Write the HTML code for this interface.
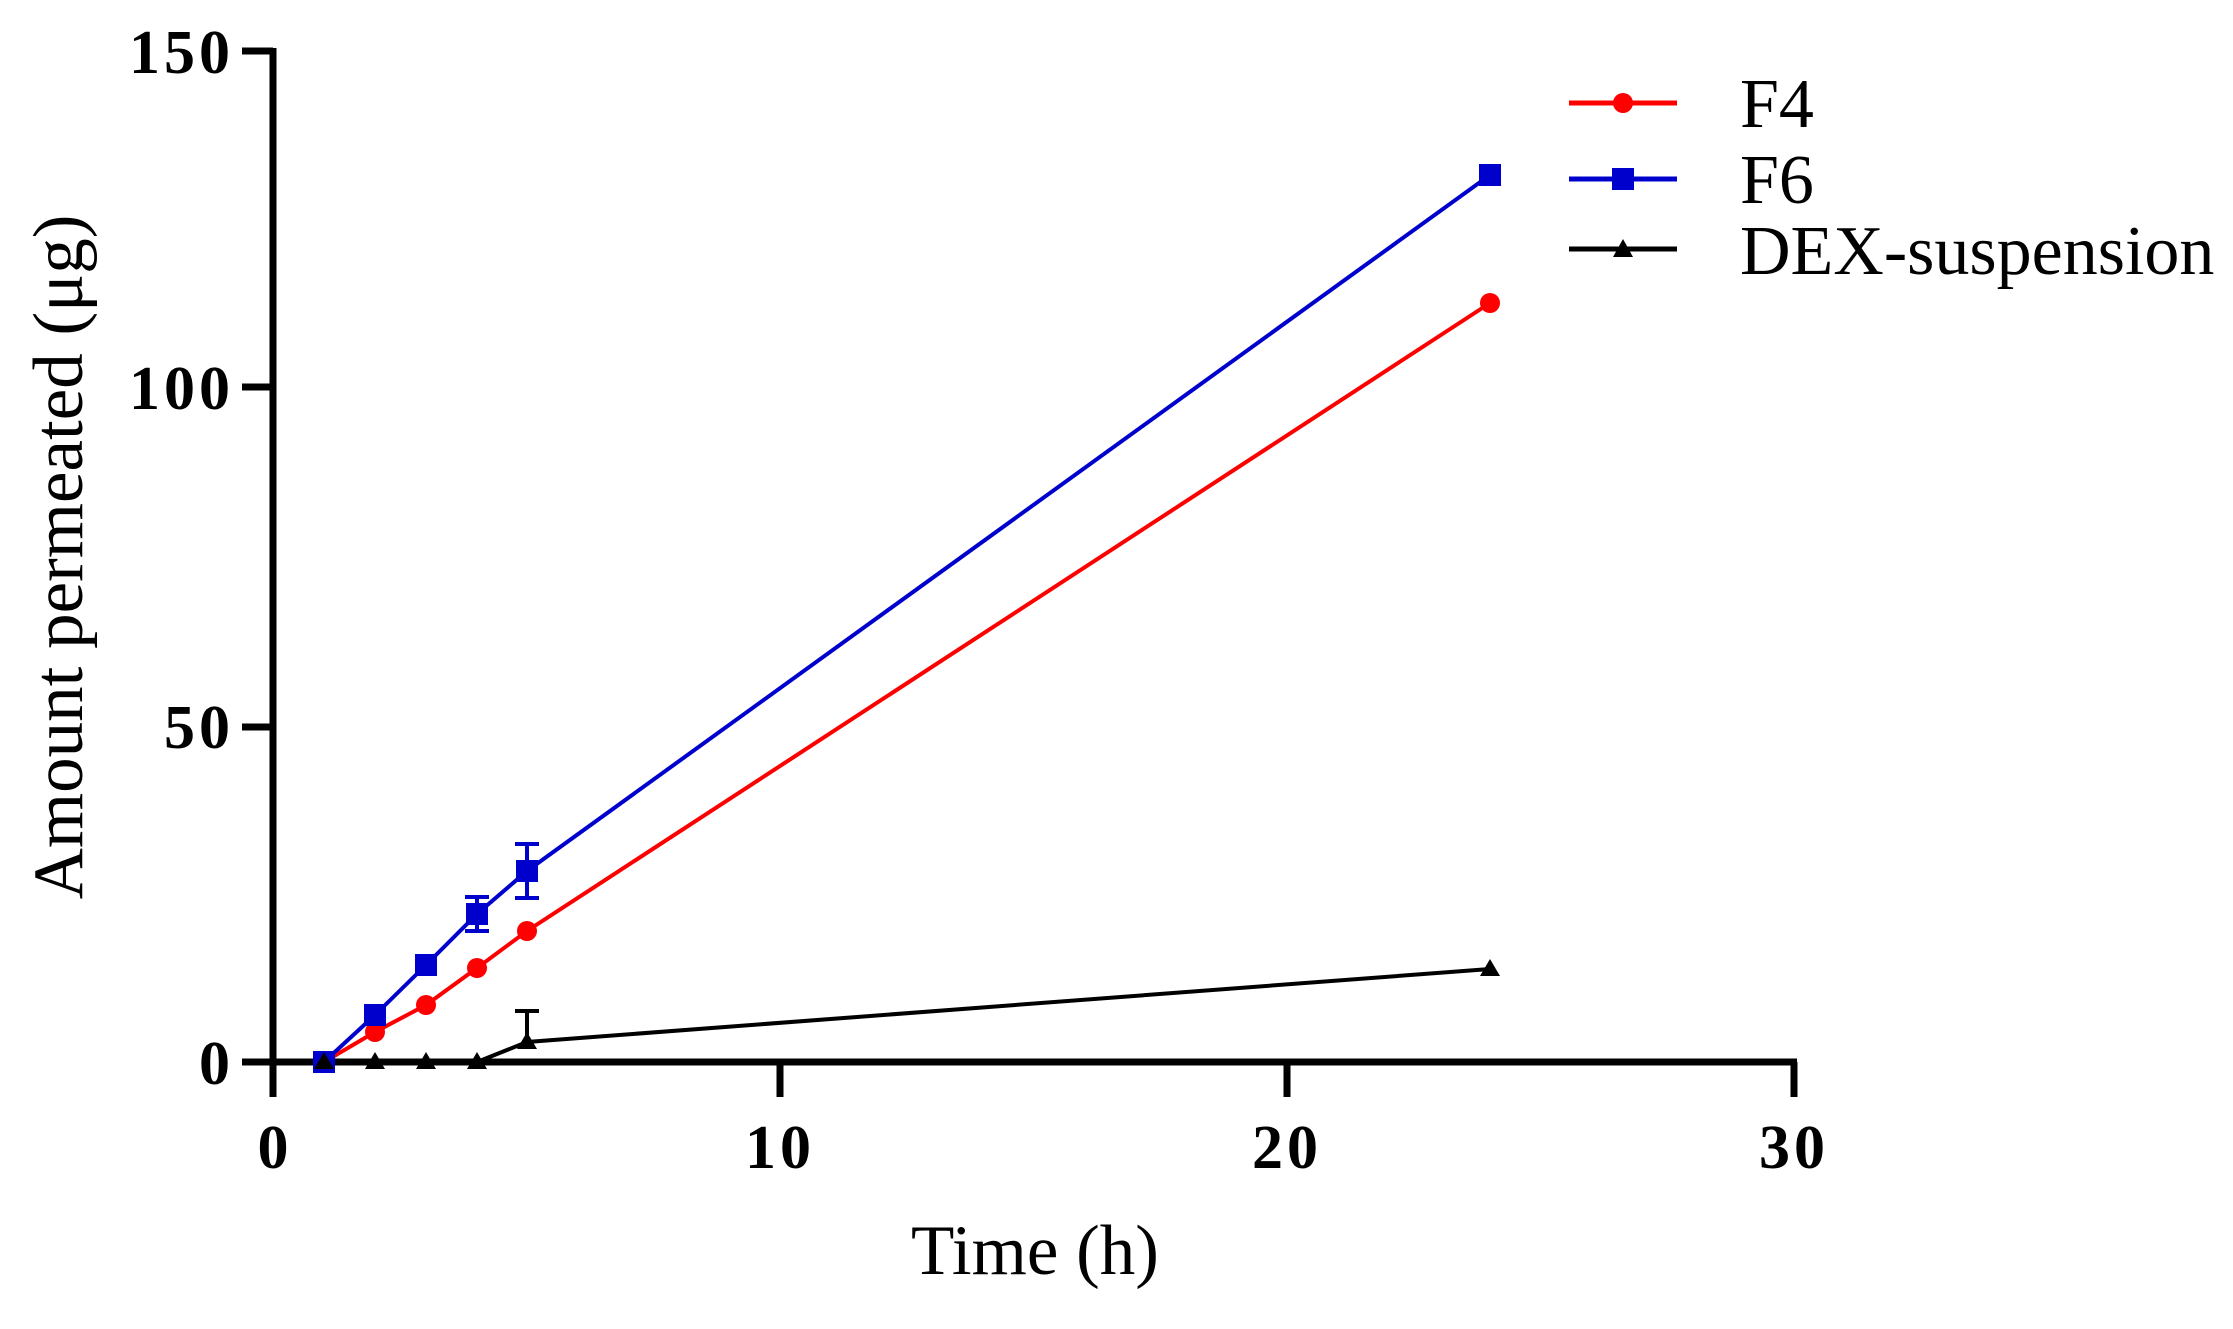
<!DOCTYPE html>
<html><head><meta charset="utf-8"><style>html,body{margin:0;padding:0;background:#fff}</style></head>
<body>
<svg width="2233" height="1324" xmlns="http://www.w3.org/2000/svg" font-family="Liberation Serif, serif">
<rect width="2233" height="1324" fill="#fff"/>
<g stroke="#000" stroke-width="7" fill="none">
<line x1="273" y1="48" x2="273" y2="1097"/>
<line x1="242" y1="1062" x2="1797" y2="1062"/>
<line x1="242" y1="51" x2="273" y2="51"/>
<line x1="242" y1="387" x2="273" y2="387"/>
<line x1="242" y1="727" x2="273" y2="727"/>
<line x1="780" y1="1062" x2="780" y2="1097"/>
<line x1="1287" y1="1062" x2="1287" y2="1097"/>
<line x1="1794" y1="1062" x2="1794" y2="1097"/>
</g>
<g font-weight="bold" font-size="62" text-anchor="end" letter-spacing="4">
<text x="234" y="73">150</text>
<text x="234" y="409">100</text>
<text x="234" y="748">50</text>
<text x="234" y="1084">0</text>
</g>
<g font-weight="bold" font-size="62" text-anchor="middle" letter-spacing="4">
<text x="275" y="1168">0</text>
<text x="780" y="1168">10</text>
<text x="1287" y="1168">20</text>
<text x="1794" y="1168">30</text>
</g>
<text x="1035" y="1274" font-size="71" text-anchor="middle">Time (h)</text>
<text transform="translate(82,557) rotate(-90)" font-size="71" text-anchor="middle">Amount permeated (μg)</text>
<g stroke="#000" stroke-width="4" fill="none">
<polyline points="324,1062 375,1062 426,1062 477,1062 527,1042 1490,969"/>
<line x1="527" y1="1042" x2="527" y2="1011"/><line x1="515" y1="1011" x2="539" y2="1011"/>
</g>
<g fill="#000">
<polygon points="324,1052 334,1069 314,1069"/><polygon points="375,1052 385,1069 365,1069"/>
<polygon points="426,1052 436,1069 416,1069"/><polygon points="477,1052 487,1069 467,1069"/>
<polygon points="527,1032 537,1049 517,1049"/><polygon points="1490,959 1500,976 1480,976"/>
</g>
<g stroke="#f00" stroke-width="4" fill="none">
<polyline points="324,1062 375,1032 426,1005 477,968 527,931 1490,303"/>
</g>
<g fill="#f00">
<circle cx="375" cy="1032" r="10"/><circle cx="426" cy="1005" r="10"/><circle cx="477" cy="968" r="10"/><circle cx="527" cy="931" r="10"/><circle cx="1490" cy="303" r="10"/>
</g>
<g stroke="#0000cd" stroke-width="4" fill="none">
<polyline points="324,1062 375,1015 426,965 477,914 527,871 1490,175"/>
<line x1="477" y1="897" x2="477" y2="931"/><line x1="465" y1="897" x2="489" y2="897"/><line x1="465" y1="931" x2="489" y2="931"/>
<line x1="527" y1="844" x2="527" y2="898"/><line x1="515" y1="844" x2="539" y2="844"/><line x1="515" y1="898" x2="539" y2="898"/>
</g>
<g fill="#0000cd">
<rect x="313" y="1051" width="22" height="22"/><rect x="364" y="1004" width="22" height="22"/><rect x="415" y="954" width="22" height="22"/>
<rect x="466" y="903" width="22" height="22"/><rect x="516" y="860" width="22" height="22"/><rect x="1479" y="164" width="22" height="22"/>
</g>
<polygon points="324,1052 334,1069 314,1069" fill="#000"/>
<line x1="1569" y1="103" x2="1677" y2="103" stroke="#f00" stroke-width="5"/>
<circle cx="1623" cy="103" r="10" fill="#f00"/>
<line x1="1569" y1="179" x2="1677" y2="179" stroke="#0000cd" stroke-width="5"/>
<rect x="1612" y="168" width="22" height="22" fill="#0000cd"/>
<line x1="1569" y1="249" x2="1677" y2="249" stroke="#000" stroke-width="5"/>
<polygon points="1623,239 1633,257 1613,257" fill="#000"/>
<g font-size="70">
<text x="1740" y="127">F4</text>
<text x="1740" y="203">F6</text>
<text x="1740" y="274">DEX-suspension</text>
</g>
</svg>
</body></html>
